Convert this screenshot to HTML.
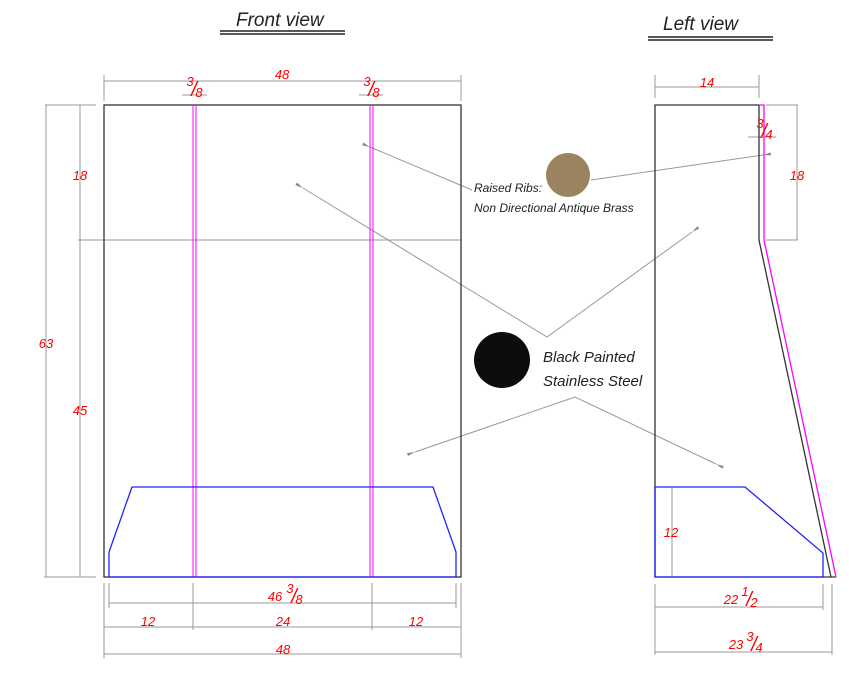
<!DOCTYPE html>
<html><head><meta charset="utf-8"><style>body{margin:0;background:#fff}svg{display:block}text{font-family:"Liberation Sans",sans-serif;font-style:italic}</style></head><body>
<svg width="849" height="700" viewBox="0 0 849 700" xmlns="http://www.w3.org/2000/svg">
<defs><marker id="a" markerWidth="8" markerHeight="6" refX="0" refY="3" orient="auto-start-reverse"><path d="M0,3L8,1.5L8,4.5Z" fill="#888"/></marker></defs>
<text x="236" y="26" font-size="19" fill="#222">Front view</text>
<line x1="220" y1="31" x2="345" y2="31" stroke="#222" stroke-width="1.5"/><line x1="220" y1="34" x2="345" y2="34" stroke="#222" stroke-width="1.5"/>
<text x="663" y="30" font-size="19" fill="#222">Left view</text>
<line x1="648" y1="37" x2="773" y2="37" stroke="#222" stroke-width="1.5"/><line x1="648" y1="40" x2="773" y2="40" stroke="#222" stroke-width="1.5"/>
<g stroke="#999" stroke-width="1" fill="none">
<line x1="104" y1="75" x2="104" y2="101"/><line x1="461" y1="75" x2="461" y2="101"/><line x1="104" y1="81" x2="461" y2="81"/>
<line x1="182" y1="95" x2="207" y2="95"/><line x1="359" y1="95" x2="383" y2="95"/>
<line x1="45" y1="105" x2="96" y2="105"/><line x1="44" y1="577" x2="96" y2="577"/><line x1="78" y1="240" x2="104" y2="240"/>
<line x1="46" y1="105" x2="46" y2="577"/><line x1="80" y1="105" x2="80" y2="577"/>
<line x1="104" y1="240" x2="461" y2="240"/>
<line x1="109" y1="583" x2="109" y2="608"/><line x1="456" y1="583" x2="456" y2="608"/><line x1="109" y1="603" x2="456" y2="603"/>
<line x1="104" y1="583" x2="104" y2="658"/><line x1="461" y1="583" x2="461" y2="658"/><line x1="193" y1="583" x2="193" y2="630"/><line x1="372" y1="583" x2="372" y2="630"/>
<line x1="104" y1="627" x2="461" y2="627"/><line x1="104" y1="654" x2="461" y2="654"/>
<line x1="655" y1="75" x2="655" y2="98"/><line x1="759" y1="75" x2="759" y2="98"/><line x1="655" y1="87" x2="759" y2="87"/>
<line x1="766" y1="105" x2="798" y2="105"/><line x1="766" y1="240" x2="798" y2="240"/><line x1="797" y1="105" x2="797" y2="240"/>
<line x1="748" y1="137" x2="776" y2="137"/>
<line x1="672" y1="487" x2="672" y2="577"/>
<line x1="655" y1="584" x2="655" y2="655"/><line x1="823" y1="584" x2="823" y2="610"/><line x1="832" y1="584" x2="832" y2="655"/>
<line x1="655" y1="607" x2="823" y2="607"/><line x1="655" y1="652" x2="832" y2="652"/>
<polyline points="303,188 547,337 692,232" marker-start="url(#a)" marker-end="url(#a)"/>
<polyline points="415,452 575,397 716,464" marker-start="url(#a)" marker-end="url(#a)"/>
<line x1="472" y1="190" x2="370" y2="147" marker-end="url(#a)"/>
<line x1="591" y1="180" x2="763" y2="155" marker-end="url(#a)"/>
</g>
<rect x="104" y="105" width="357" height="472" fill="none" stroke="#333" stroke-width="1.3"/>
<g stroke="#f0f" stroke-width="1"><line x1="193" y1="105" x2="193" y2="577"/><line x1="196" y1="105" x2="196" y2="577"/><line x1="370" y1="105" x2="370" y2="577"/><line x1="373" y1="105" x2="373" y2="577"/></g>
<polygon points="109,577 109,552 132,487 433,487 456,552 456,577" fill="none" stroke="#22f" stroke-width="1.3"/>
<polyline points="759,105 655,105 655,577 836,577" fill="none" stroke="#333" stroke-width="1.3"/>
<polyline points="759,105 759,240 831,577" fill="none" stroke="#333" stroke-width="1.3"/>
<polyline points="759,105 764,105 764,240 836,577" fill="none" stroke="#f0f" stroke-width="1.3"/>
<polygon points="655,577 655,487 745,487 823,553 823,577" fill="none" stroke="#22f" stroke-width="1.3"/>
<circle cx="568" cy="175" r="22" fill="#9a845f"/>
<circle cx="502" cy="360" r="28" fill="#0d0d0d"/>
<g fill="#222" font-size="12"><text x="474" y="192">Raised Ribs:</text><text x="474" y="212">Non Directional Antique Brass</text></g>
<g fill="#222" font-size="15"><text x="543" y="362">Black Painted</text><text x="543" y="386">Stainless Steel</text></g>
<g fill="#f00" font-size="13" text-anchor="middle">
<text x="282" y="79">48</text>
<text x="190" y="86" font-size="13">3</text><text x="194" y="96" font-size="20" font-style="normal">/</text><text x="199" y="97" font-size="13">8</text>
<text x="367" y="86" font-size="13">3</text><text x="371" y="96" font-size="20" font-style="normal">/</text><text x="376" y="97" font-size="13">8</text>
<text x="80" y="180">18</text><text x="46" y="348">63</text><text x="80" y="415">45</text>
<text x="275" y="601">46</text><text x="290" y="593">3</text><text x="294" y="603" font-size="20" font-style="normal">/</text><text x="299" y="604">8</text>
<text x="148" y="626">12</text><text x="283" y="626">24</text><text x="416" y="626">12</text>
<text x="283" y="654">48</text>
<text x="707" y="87">14</text>
<text x="760" y="128">3</text><text x="764" y="138" font-size="20" font-style="normal">/</text><text x="769" y="139">4</text>
<text x="797" y="180">18</text>
<text x="671" y="537">12</text>
<text x="731" y="604">22</text><text x="745" y="596">1</text><text x="749" y="606" font-size="20" font-style="normal">/</text><text x="754" y="607">2</text>
<text x="736" y="649">23</text><text x="750" y="641">3</text><text x="754" y="651" font-size="20" font-style="normal">/</text><text x="759" y="652">4</text>
</g>
</svg>
</body></html>
